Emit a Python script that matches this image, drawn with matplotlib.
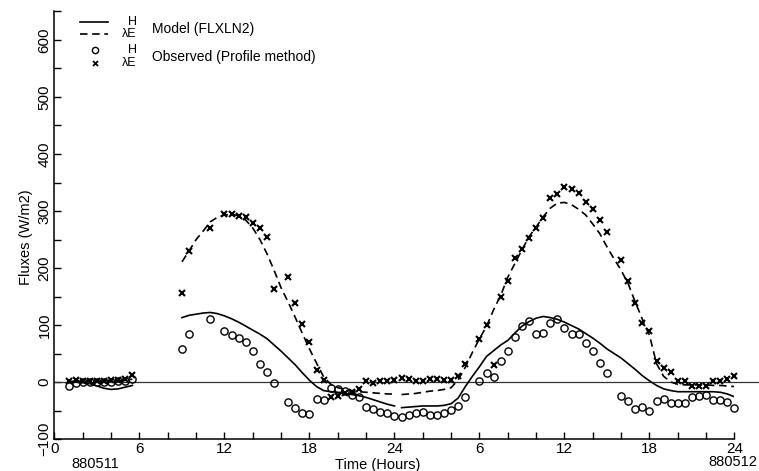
import numpy as np
import matplotlib.pyplot as plt
from matplotlib.ticker import MultipleLocator

plt.rcParams['font.family'] = ['Liberation Sans', 'DejaVu Sans']

# observed (profile method), half-hourly, gaps where no data
obs_time = [1.0, 1.5, 2.0, 2.5, 3.0, 3.5, 4.0, 4.5, 5.0, 5.5,
            9.0, 9.5, 11.0,
            12.0, 12.5, 13.0, 13.5, 14.0, 14.5, 15.0, 15.5,
            16.5, 17.0, 17.5, 18.0, 18.5, 19.0, 19.5, 20.0, 20.5, 21.0, 21.5, 22.0, 22.5,
            23.0, 23.5, 24.0, 24.5, 25.0, 25.5, 26.0, 26.5, 27.0, 27.5, 28.0, 28.5, 29.0,
            30.0, 30.5, 31.0, 31.5, 32.0, 32.5, 33.0, 33.5, 34.0, 34.5, 35.0, 35.5, 36.0,
            36.5, 37.0, 37.5, 38.0, 38.5, 39.0,
            40.0, 40.5, 41.0, 41.5, 42.0, 42.5, 43.0, 43.5, 44.0, 44.5, 45.0, 45.5, 46.0,
            46.5, 47.0, 47.5, 48.0]
obs_H = [-7, -2, 0, 0, 0, 0, 0, 1, 2, 5,
         58, 85, 110,
         89, 82, 77, 70, 55, 32, 17, -2,
         -35, -46, -54, -56, -30, -32, -11, -13, -15, -22, -27, -44, -47,
         -52, -55, -60, -62, -57, -55, -52, -58, -57, -55, -49, -42, -27,
         2, 16, 9, 36, 55, 79, 98, 107, 85, 86, 103, 110, 94,
         84, 84, 68, 54, 34, 16,
         -25, -34, -47, -43, -51, -33, -30, -36, -37, -36, -27, -25, -22,
         -32, -32, -35, -46]
obs_LE = [2, 3, 2, 2, 2, 2, 3, 4, 6, 12,
          157, 229, 270,
          294, 294, 292, 290, 279, 270, 255, 163,
          184, 138, 101, 71, 21, 3, -27, -24, -20, -17, -13, 1, -2,
          1, 1, 4, 7, 5, 2, 1, 6, 5, 4, 4, 10, 31,
          76, 100, 29, 150, 177, 218, 233, 252, 271, 288, 323, 329, 342,
          339, 331, 315, 303, 285, 264,
          214, 177, 139, 103, 89, 36, 24, 18, 1, 1, -7, -7, -7,
          1, 1, 5, 11]

# model FLXLN2, three runs
night_time = np.arange(1.0, 5.51, 0.5)
night_H = [0, 0, -1, -3, -7, -11, -13, -12, -9, -6]
night_LE = [1, 1, 1, 1, 1, 2, 2, 2, 3, 5]

day1_time = np.arange(9.0, 24.01, 0.5)
day1_H = [113, 117, 119, 121, 122, 120, 116, 111, 105, 98, 91, 84, 76, 65, 54, 42,
          30, 16, 3, -8, -15, -17, -18, -20, -22, -24, -27, -31, -35, -39, -42]
day1_LE = [211, 230, 250, 265, 281, 289, 293, 294, 292, 284, 270, 250, 225, 196, 165, 140,
           113, 85, 58, 33, 9, -4, -10, -13, -15, -17, -18, -19, -20, -21, -21]

day2_time = np.arange(24.5, 48.01, 0.5)
day2_H = [-45, -44, -43, -42, -42, -42, -41, -38, -28, -8,
          10, 27, 45, 55, 65, 73, 86, 98, 106, 112,
          115, 113, 110, 105, 99, 93, 85, 77, 68, 58,
          50, 42, 32, 22, 11, 2, -6, -12, -15, -17,
          -17, -17, -17, -17, -17, -18, -21, -26]
day2_LE = [-22, -21, -20, -18, -16, -15, -13, -10, 4, 26,
           52, 76, 98, 127, 152, 184, 208, 232, 255, 272,
           290, 305, 314, 315, 311, 303, 293, 277, 260, 237,
           216, 196, 172, 140, 110, 82, 32, 10, 0, -4,
           -5, -5, -5, -5, -6, -6, -7, -8]

hour_ticks = np.arange(0, 49, 6)
hour_labels = ["0", "6", "12", "18", "24", "6", "12", "18", "24"]

fig = plt.figure(figsize=(7.59, 4.71), dpi=100)
ax = fig.add_axes([0.0718, 0.0679, 0.8959, 0.9077])

ax.plot([0, 1.04], [0, 0], color='#333333', lw=0.9,
        transform=ax.get_yaxis_transform(), clip_on=False)

for t, h, le in [(night_time, night_H, night_LE),
                 (day1_time, day1_H, day1_LE),
                 (day2_time, day2_H, day2_LE)]:
    ax.plot(t, h, color='black', lw=1.2)
    ax.plot(t, le, color='black', lw=1.2, dashes=(4.5, 2.8))

ax.plot(obs_time, obs_H, ls='none', marker='o', ms=5.2, mfc='none', mec='black',
        mew=1.0, clip_on=False)
ax.plot(obs_time, obs_LE, ls='none', marker='x', ms=4.2, color='black',
        mew=1.5, clip_on=False)

ax.set_xlim(0, 48)
ax.set_ylim(-100, 650)
ax.set_xticks(hour_ticks)
ax.set_xticklabels(hour_labels)
ax.xaxis.set_minor_locator(MultipleLocator(2))
ax.yaxis.set_minor_locator(MultipleLocator(50))
ax.set_yticks(np.arange(-100, 601, 100))
ax.tick_params(which='both', direction='in', length=5, width=1.0, labelsize=11, pad=2)
for lab in ax.get_yticklabels():
    lab.set_rotation(90)
    lab.set_va('center')

for s in ['top', 'right']:
    ax.spines[s].set_visible(False)
for s in ['left', 'bottom']:
    ax.spines[s].set_linewidth(1.1)

ax.set_ylabel("Fluxes (W/m2)", fontsize=10.5)
ax.yaxis.set_label_coords(-0.031, 0.4725)
ax.set_xlabel("Time (Hours)", fontsize=10.5)
ax.xaxis.set_label_coords(0.476, -0.045)
ax.text(0.0596, -0.058, "880511", transform=ax.transAxes, ha='center', va='center', fontsize=10.5)
ax.text(0.997, -0.054, "880512", transform=ax.transAxes, ha='center', va='center', fontsize=10.5,
        clip_on=False)

# hand-made legend
ax.plot([0.0375, 0.0787], [0.9754, 0.9754], color='black', lw=1.2, transform=ax.transAxes)
ax.plot([0.0375, 0.0787], [0.947, 0.947], color='black', lw=1.2, dashes=(4.5, 2.8),
        transform=ax.transAxes)
ax.plot([0.0596], [0.910], marker='o', ms=4.5, mfc='none', mec='black', mew=1.0,
        transform=ax.transAxes)
ax.plot([0.0596], [0.880], marker='x', ms=3.6, color='black', mew=1.3, transform=ax.transAxes)
for y, s in [(0.9754, "H"), (0.947, "λE"), (0.910, "H"), (0.880, "λE")]:
    ax.text(0.121, y, s, transform=ax.transAxes, ha='right', va='center', fontsize=9)
ax.text(0.143, 0.959, "Model (FLXLN2)", transform=ax.transAxes, ha='left', va='center', fontsize=10)
ax.text(0.143, 0.894, "Observed (Profile method)", transform=ax.transAxes, ha='left',
        va='center', fontsize=10)

plt.savefig('out.png', dpi=100)
